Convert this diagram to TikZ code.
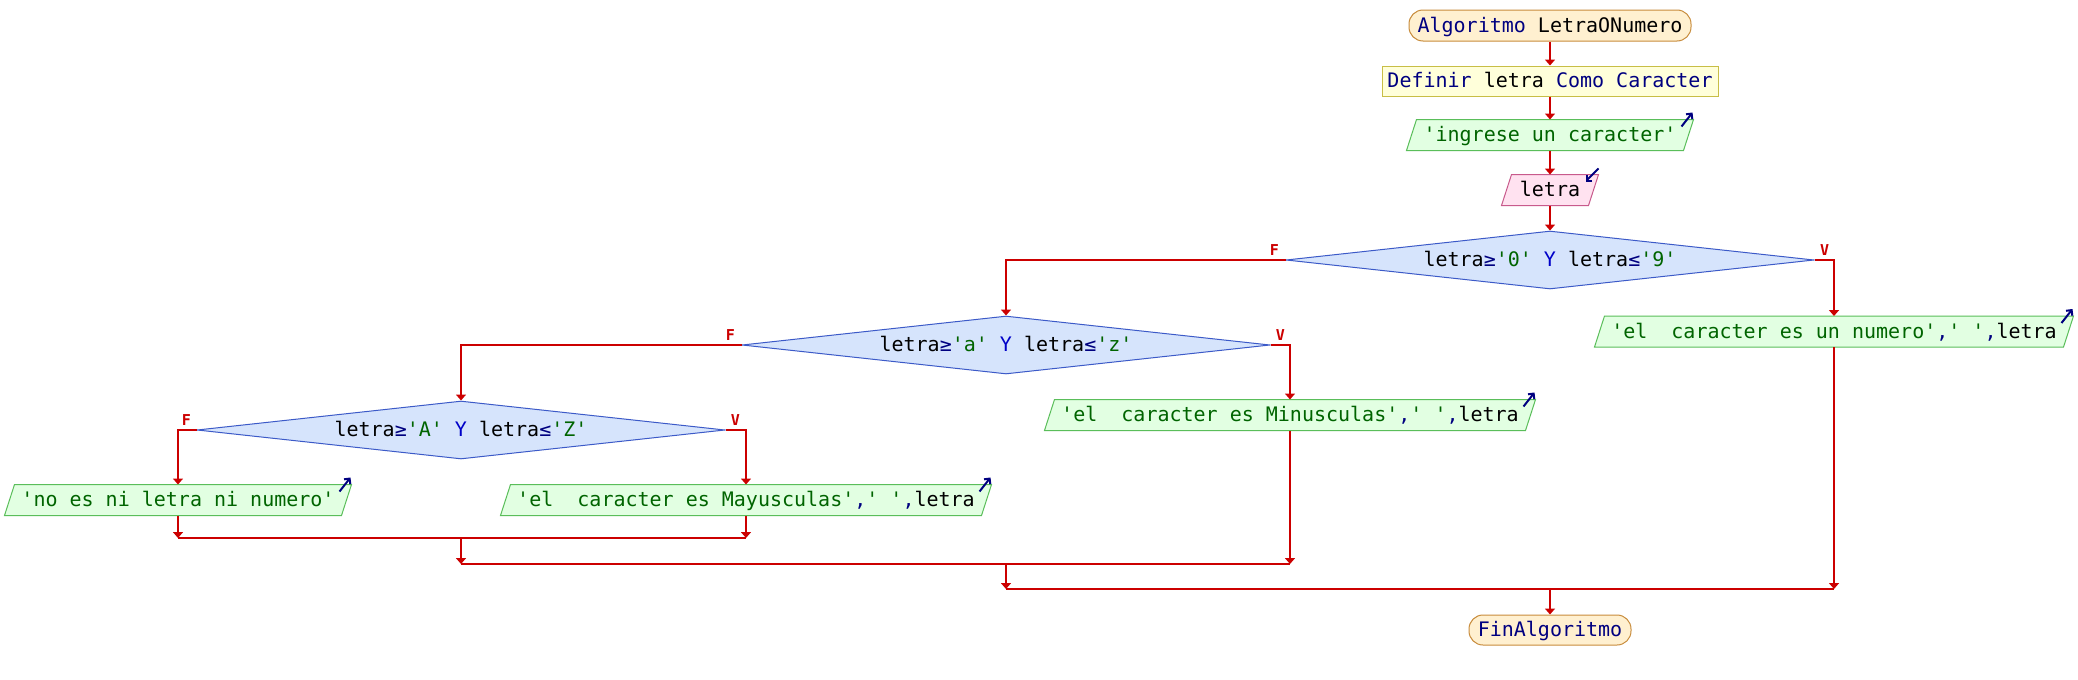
\documentclass[tikz,border=0pt]{standalone}
\usepackage{fontspec}
\newfontfamily\mono{DejaVu Sans Mono}
\usetikzlibrary{shapes.geometric,arrows.meta,calc}
\definecolor{kwc}{RGB}{0,0,128}
\definecolor{strc}{RGB}{0,100,0}
\definecolor{yc}{RGB}{0,0,200}
\definecolor{flowc}{RGB}{204,0,0}
\definecolor{termf}{RGB}{255,240,208}
\definecolor{termd}{RGB}{200,140,60}
\definecolor{deff}{RGB}{255,255,218}
\definecolor{defd}{RGB}{200,190,70}
\definecolor{outf}{RGB}{226,255,226}
\definecolor{outd}{RGB}{90,190,90}
\definecolor{inf}{RGB}{255,226,240}
\definecolor{ind}{RGB}{200,90,140}
\definecolor{decf}{RGB}{214,228,252}
\definecolor{decd}{RGB}{60,90,200}
\newcommand\ckw[1]{\textcolor{kwc}{#1}}
\newcommand\cst[1]{\textcolor{strc}{#1}}
\newcommand\cyy[1]{\textcolor{yc}{#1}}
\pgfdeclarelayer{bg}
\pgfdeclarelayer{paper}
\pgfsetlayers{paper,bg,main}
\newcommand\paral[2]{%
  \begin{pgfonlayer}{bg}
  \draw[#2] ($(#1.south west)+(-5,0)$) -- ($(#1.north west)+(5,0)$)
     -- ($(#1.north east)+(5,0)$) -- ($(#1.south east)+(-5,0)$) -- cycle;
  \end{pgfonlayer}}
\tikzset{
  base/.style={font=\mono\fontsize{20}{24}\selectfont, text height=15pt,
    text depth=2pt, inner sep=0pt, minimum height=30pt, line width=1pt},
  termbox/.style={base, rectangle, rounded corners=14pt, draw=termd, fill=termf, text=kwc},
  defbox/.style={base, rectangle, draw=defd, fill=deff},
  iobox/.style={base, rectangle},
  outshape/.style={draw=outd, fill=outf, line width=1pt},
  inshape/.style={draw=ind, fill=inf, line width=1pt},
  decbox/.style={base, diamond, aspect=9.1, draw=decd, fill=decf,
    minimum width=528pt, minimum height=58pt},
  flow/.style={draw=flowc, line width=2pt, -{Triangle[width=10pt,length=6pt]}},
  flowline/.style={draw=flowc, line width=2pt},
  lbl/.style={font=\mono\bfseries\fontsize{15}{15}\selectfont, text=flowc, inner sep=0pt},
  ioarrow/.style={draw=kwc, line width=2pt, -{Straight Barb[length=4pt,width=8pt]}},
}
\begin{document}
\begin{tikzpicture}[x=1pt,y=-1pt]
\useasboundingbox (0,0) rectangle (2078,680);
\begin{pgfonlayer}{paper}
\fill[white] (0,0) rectangle (2078,680);
\end{pgfonlayer}

\node[termbox, minimum width=282pt, minimum height=31pt] (start) at (1550,25.5)
  {Algoritmo \textcolor{black}{LetraONumero}};
\node[defbox, minimum width=336pt] (def) at (1550,81)
  {\ckw{Definir} letra \ckw{Como Caracter}};
\node[iobox, minimum width=276pt] (ing) at (1550,135)
  {\cst{'ingrese un caracter'}};
\paral{ing}{outshape}
\node[iobox, minimum width=86pt] (leer) at (1550,190) {letra};
\paral{leer}{inshape}

\node[decbox] (d1) at (1550,260)
  {letra\ckw{≥}\cst{'0'} \cyy{Y} letra\ckw{≤}\cst{'9'}};
\node[iobox, minimum width=468pt] (num) at (1834,331.5)
  {\cst{'el\ \ caracter es un numero'}\ckw{,}\cst{' '}\ckw{,}letra};
\paral{num}{outshape}

\node[decbox] (d2) at (1006,345)
  {letra\ckw{≥}\cst{'a'} \cyy{Y} letra\ckw{≤}\cst{'z'}};
\node[iobox, minimum width=480pt] (minus) at (1290,415)
  {\cst{'el\ \ caracter es Minusculas'}\ckw{,}\cst{' '}\ckw{,}letra};
\paral{minus}{outshape}

\node[decbox] (d3) at (461,430)
  {letra\ckw{≥}\cst{'A'} \cyy{Y} letra\ckw{≤}\cst{'Z'}};
\node[iobox, minimum width=336pt] (noes) at (178,500)
  {\cst{'no es ni letra ni numero'}};
\paral{noes}{outshape}
\node[iobox, minimum width=480pt] (mayus) at (746,500)
  {\cst{'el\ \ caracter es Mayusculas'}\ckw{,}\cst{' '}\ckw{,}letra};
\paral{mayus}{outshape}

\node[termbox, minimum width=162pt] (fin) at (1550,630) {FinAlgoritmo};

\coordinate (m1) at (0,538);
\coordinate (m2) at (0,564);
\coordinate (m3) at (0,589);

% io markers
\foreach \n in {ing,num,minus,noes,mayus}
  \draw[ioarrow] ($(\n.north east)+(-7,7)$) -- ($(\n.north east)+(4,-7)$);
\draw[ioarrow] ($(leer.north east)+(5,-6)$) -- ($(leer.north east)+(-8,7)$);

% main flow
\draw[flow] (start.south) -- (def.north);
\draw[flow] (def.south) -- (ing.north);
\draw[flow] (ing.south) -- (leer.north);
\draw[flow] (leer.south) -- (d1.north);

\draw[flow] (d1.west) -| (d2.north);
\draw[flow] (d1.east) -| (num.north);
\draw[flow] (d2.west) -| (d3.north);
\draw[flow] (d2.east) -| (minus.north);
\draw[flow] (d3.west) -| (noes.north);
\draw[flow] (d3.east) -| (mayus.north);

\node[lbl] (f1) at ($(d1.west)+(-11,-10)$) {F};
\node[lbl] (v1) at ($(d1.east)+(10,-10)$) {V};
\node[lbl] (f2) at ($(d2.west)+(-11,-10)$) {F};
\node[lbl] (v2) at ($(d2.east)+(10,-10)$) {V};
\node[lbl] (f3) at ($(d3.west)+(-10,-10)$) {F};
\node[lbl] (v3) at ($(d3.east)+(10,-10)$) {V};

% merges
\draw[flow] (noes.south) -- (noes |- m1);
\draw[flow] (mayus.south) -- (mayus |- m1);
\draw[flowline] (noes |- m1) -- (mayus |- m1);
\draw[flow] (d3 |- m1) -- (d3 |- m2);

\draw[flow] (minus.south) -- (minus |- m2);
\draw[flowline] (d3 |- m2) -- (minus |- m2);
\draw[flow] (d2 |- m2) -- (d2 |- m3);

\draw[flow] (num.south) -- (num |- m3);
\draw[flowline] (d2 |- m3) -- (num |- m3);
\draw[flow] (d1 |- m3) -- (fin.north);
\end{tikzpicture}
\end{document}
